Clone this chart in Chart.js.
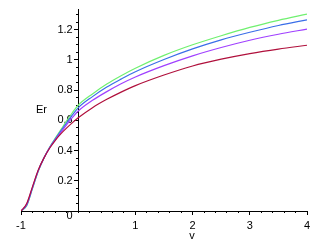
<!DOCTYPE html>
<html>
<head>
<meta charset="utf-8">
<script src="https://cdn.jsdelivr.net/npm/chart.js@4.4.1/dist/chart.umd.min.js"></script>
<style>
  body { margin: 0; background: #fff; }
  canvas { display: block; }
</style>
</head>
<body>
<canvas id="my-chart" width="326" height="242"></canvas>
<script>
'use strict';

// Data
let vValues = [-1, -0.9, -0.8, -0.7, -0.6, -0.5, -0.4, -0.3, -0.2, -0.1, 0, 0.25, 0.5, 0.75, 1, 1.5, 2, 2.5, 3, 3.5, 4];
let erGreen = [0, 0.035, 0.148, 0.262, 0.35, 0.422, 0.482, 0.54, 0.598, 0.652, 0.70, 0.775, 0.84, 0.895, 0.945, 1.03, 1.1, 1.16, 1.215, 1.262, 1.303];
let erBlue = [0, 0.038, 0.15, 0.264, 0.35, 0.42, 0.477, 0.532, 0.585, 0.636, 0.683, 0.757, 0.82, 0.873, 0.922, 1.003, 1.073, 1.133, 1.183, 1.228, 1.265];
let erPurple = [0, 0.045, 0.156, 0.267, 0.35, 0.418, 0.471, 0.522, 0.572, 0.619, 0.662, 0.733, 0.79, 0.842, 0.887, 0.962, 1.027, 1.082, 1.13, 1.17, 1.204];
let erRed = [0, 0.05, 0.16, 0.27, 0.35, 0.415, 0.468, 0.512, 0.55, 0.585, 0.617, 0.684, 0.739, 0.787, 0.83, 0.9, 0.96, 1.005, 1.042, 1.072, 1.097];

// Tick labels
let xTicks = [-1, 1, 2, 3, 4];
let yTicks = [0.2, 0.4, 0.6, 0.8, 1, 1.2];

// minor ticks
let xMinor = [];
for (let i = -5; i <= 20; i++) { xMinor.push(i / 5); }
let yMinor = [];
for (let i = 0; i <= 26; i++) { yMinor.push(i / 20); }

let xMin = -1;
let xMax = 4;
let yMin = 0;
let yMax = 1.333;

function toPoints(ys) {
  let pts = [];
  for (let i = 0; i < vValues.length; i++) {
    pts.push({ x: vValues[i], y: ys[i] });
  }
  return pts;
}

function makeLine(ys, color) {
  return {
    data: toPoints(ys),
    borderColor: color,
    borderWidth: 1.2,
    pointRadius: 0,
    showLine: true,
    fill: false,
    cubicInterpolationMode: 'monotone'
  };
}

function setTicks(list) {
  return function (axis) {
    axis.ticks = list.map(v => ({ value: v }));
  };
}

let fontFamily = 'Liberation Sans, Arial, sans-serif';

// draws the extra texts: axis names and the origin 0
let extraText = {
  id: 'extraText',
  afterDraw(chart) {
    let ctx = chart.ctx;
    ctx.save();
    ctx.fillStyle = '#000';
    ctx.font = '11px ' + fontFamily;
    ctx.textAlign = 'center';
    ctx.textBaseline = 'middle';
    ctx.fillText('0', 69.5, 216);
    ctx.fillText('v', 192, 236);
    ctx.fillText('Er', 41.5, 109.5);
    ctx.restore();
  }
};

let canvasElem = document.getElementById('my-chart');

new Chart(canvasElem, {
  type: 'scatter',
  data: {
    datasets: [
      makeLine(erRed, '#b0103c'),
      makeLine(erPurple, '#a040ff'),
      makeLine(erBlue, '#3a6ee8'),
      makeLine(erGreen, '#70f070')
    ]
  },
  options: {
    responsive: false,
    animation: false,
    layout: { padding: { left: 21, right: 19, top: 2, bottom: 31 } },
    plugins: { legend: { display: false }, tooltip: { enabled: false } },
    scales: {
      x: {
        type: 'linear', min: xMin, max: xMax,
        position: { y: 0 },
        afterBuildTicks: setTicks(xTicks),
        grid: { drawOnChartArea: false, tickLength: 3, color: '#000' },
        border: { color: '#000', width: 1 },
        ticks: { color: '#000', font: { family: fontFamily, size: 11, lineHeight: 1.6 }, maxRotation: 0, autoSkip: false }
      },
      y: {
        type: 'linear', min: yMin, max: yMax,
        position: { x: 0 },
        afterBuildTicks: setTicks(yTicks),
        grid: { drawOnChartArea: false, tickLength: 4, color: '#000' },
        border: { color: '#000', width: 1 },
        ticks: {
          color: '#000', font: { family: fontFamily, size: 11 }, autoSkip: false,
          callback: v => v + '\u2002'
        }
      },
      xMinorAxis: {
        type: 'linear', axis: 'x', min: xMin, max: xMax,
        position: { y: 0 },
        afterBuildTicks: setTicks(xMinor),
        grid: { drawOnChartArea: false, tickLength: 2, color: '#000' },
        border: { display: false },
        ticks: { display: false }
      },
      yMinorAxis: {
        type: 'linear', axis: 'y', min: yMin, max: yMax,
        position: { x: 0 },
        afterBuildTicks: setTicks(yMinor),
        grid: { drawOnChartArea: false, tickLength: 2, color: '#000' },
        border: { display: false },
        ticks: { display: false }
      }
    }
  },
  plugins: [extraText]
});
</script>
</body>
</html>
